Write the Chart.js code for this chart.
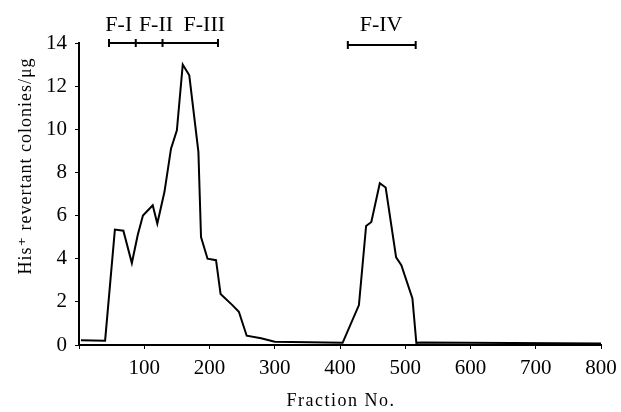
<!DOCTYPE html>
<html>
<head>
<meta charset="utf-8">
<script src="https://cdn.jsdelivr.net/npm/chart.js@4"></script>
<style>
  html, body { margin: 0; padding: 0; background: #fff; }
  #wrap { width: 621px; height: 412px; }
</style>
</head>
<body>
<div id="wrap"><canvas id="fraction-chart"></canvas></div>
<script>
// Fraction number (x) and His+ revertant colonies per ug (y)
const fractions = [3, 40, 55, 68, 81, 90, 98, 113, 120, 131, 141, 150, 159, 169, 183, 187, 197, 210, 217, 235, 245, 257, 279, 300, 404, 429, 440, 448, 461, 470, 486, 494, 511, 517, 525, 800];
const colonies = [0.22, 0.2, 5.35, 5.3, 3.8, 5.1, 6.0, 6.48, 5.63, 7.1, 9.1, 9.95, 13.0, 12.5, 8.95, 5.0, 4.0, 3.93, 2.36, 1.85, 1.54, 0.43, 0.31, 0.15, 0.1, 1.85, 5.52, 5.7, 7.5, 7.3, 4.06, 3.7, 2.16, 0.1, 0.12, 0.07];

// Fraction pools marked above the plot
const poolBreaks1 = [46, 87, 128, 213];
const poolBreaks2 = [412, 516];
const poolLabels = ['F-I', 'F-II', 'F-III', 'F-IV'];
const poolLabelX = [61, 118, 192, 463];

const serif = '"Liberation Serif", "DejaVu Serif", serif';

// vẽ các khoảng F-I..F-IV và tiêu đề trục
const annotations = {
  id: 'annotations',
  afterDraw(chart) {
    const { ctx, scales: { x, y } } = chart;
    ctx.save();
    ctx.strokeStyle = '#000';
    ctx.fillStyle = '#000';
    ctx.lineWidth = 2;

    const bracket = (stops, py) => {
      ctx.beginPath();
      ctx.moveTo(x.getPixelForValue(stops[0]), py);
      ctx.lineTo(x.getPixelForValue(stops[stops.length - 1]), py);
      stops.forEach(v => {
        const px = x.getPixelForValue(v);
        ctx.moveTo(px, py - 4);
        ctx.lineTo(px, py + 4);
      });
      ctx.stroke();
    };
    bracket(poolBreaks1, y.getPixelForValue(14));
    bracket(poolBreaks2, y.getPixelForValue(14) + 2);

    ctx.font = '22px ' + serif;
    ctx.textAlign = 'center';
    ctx.textBaseline = 'middle';
    poolLabels.forEach((t, i) => {
      ctx.fillText(t, x.getPixelForValue(poolLabelX[i]), 25);
    });

    // tiêu đề trục x
    ctx.font = '18px ' + serif;
    ctx.letterSpacing = '1.5px';
    ctx.fillText('Fraction No.', 341, 401);

    // tiêu đề trục y
    ctx.letterSpacing = '1px';
    ctx.translate(26, 166);
    ctx.rotate(-Math.PI / 2);
    ctx.fillText('His\u207A revertant colonies/\u03BCg', 0, 0);
    ctx.restore();
  }
};

new Chart(document.getElementById('fraction-chart'), {
  type: 'line',
  data: {
    datasets: [{
      data: fractions.map((f, i) => ({ x: f, y: colonies[i] })),
      borderColor: '#000',
      borderWidth: 2,
      pointRadius: 0,
      fill: false,
      tension: 0
    }]
  },
  options: {
    responsive: true,
    maintainAspectRatio: false,
    animation: false,
    layout: { padding: { top: 43, right: 20, left: 0, bottom: 0 } },
    plugins: {
      legend: { display: false },
      tooltip: { enabled: false }
    },
    scales: {
      x: {
        type: 'linear',
        min: 0,
        max: 800,
        afterFit(scale) {
          scale.height = 67;
          scale.paddingLeft = 0;
          scale.paddingRight = 0;
        },
        border: { display: true, color: '#000', width: 2 },
        grid: { drawOnChartArea: false, drawTicks: true, tickLength: 4, color: '#000' },
        ticks: {
          stepSize: 100,
          color: '#000',
          padding: 7,
          maxRotation: 0,
          font: { family: serif, size: 21 },
          callback: v => (v === 0 ? '' : v)
        }
      },
      y: {
        min: 0,
        max: 14,
        afterFit(scale) { scale.width = 79; },
        border: { display: true, color: '#000', width: 2 },
        grid: { drawOnChartArea: false, drawTicks: true, tickLength: 4, color: '#000' },
        ticks: {
          stepSize: 2,
          color: '#000',
          padding: 8,
          font: { family: serif, size: 21 }
        }
      }
    }
  },
  plugins: [annotations]
});
</script>
</body>
</html>
